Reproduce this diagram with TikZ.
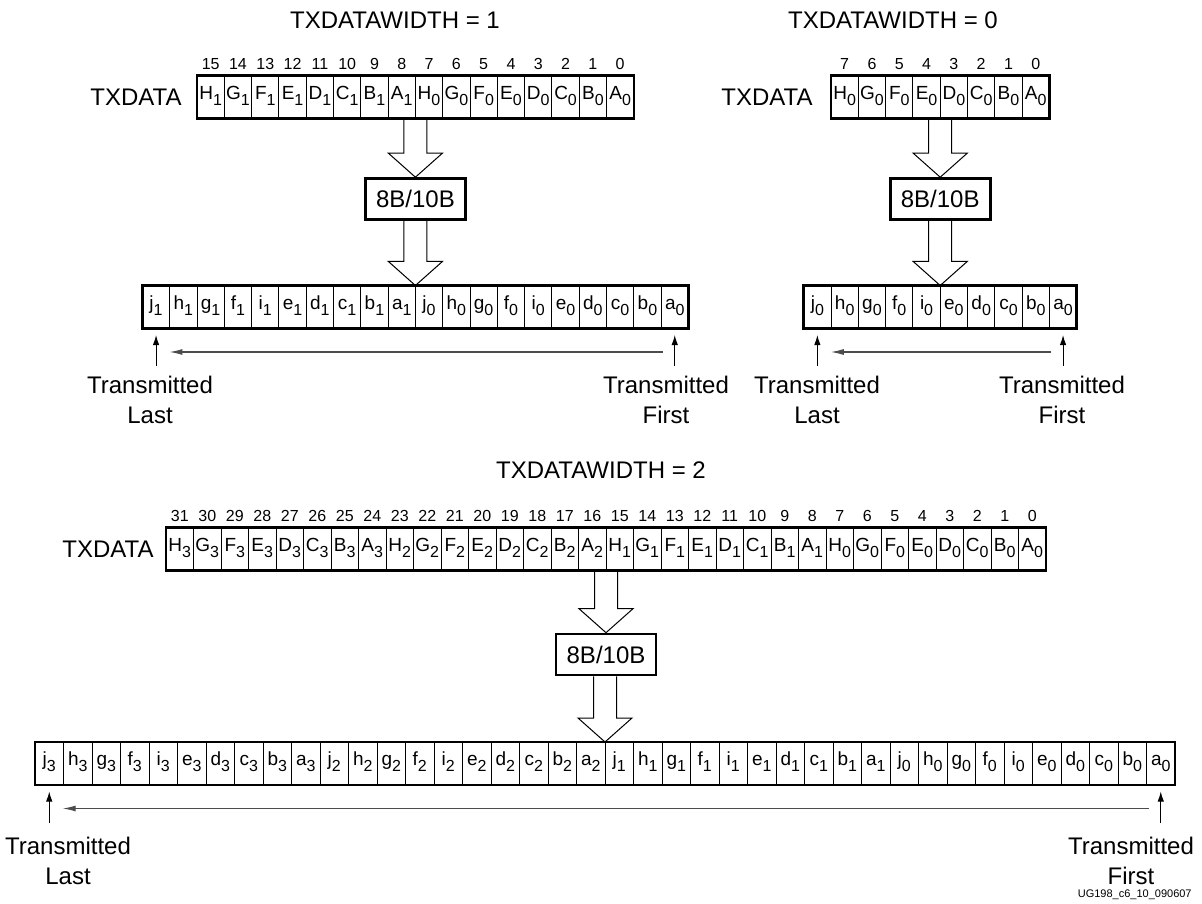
\documentclass[tikz,border=0pt]{standalone}
\usepackage{fontspec}
\setmainfont{Liberation Sans}
\usetikzlibrary{arrows.meta,calc}

\newcommand{\lbl}[2]{#1\raisebox{-3pt}{\fontsize{8}{8}\selectfont #2}}

% wide outlined arrow, open at the top, tip on #2
\newcommand{\blockarrow}[2]{%
  \draw[blockline] let \p1=(#1), \p2=(#2) in
    (\x2-5.75pt,\y1) -- (\x2-5.75pt,\y2+12pt) -- (\x2-13.5pt,\y2+12pt)
    -- (\x2,\y2) -- (\x2+13.5pt,\y2+12pt) -- (\x2+5.75pt,\y2+12pt) -- (\x2+5.75pt,\y1);}

\tikzset{
  cell/.style={draw, line width=0.5pt, minimum width=#1, minimum height=21.5pt,
    text height=7pt, text depth=4.8pt,
    inner sep=0pt, outer sep=0pt, font=\fontsize{9.5}{10}\selectfont},
  rowframe/.style={line width=1.3pt},
  bitnum/.style={inner sep=0pt, font=\fontsize{8}{9}\selectfont},
  rowname/.style={inner sep=0pt, font=\fontsize{12}{14}\selectfont},
  headline/.style={inner sep=0pt, font=\fontsize{12}{14}\selectfont},
  coder/.style={draw, line width=1.3pt, minimum width=50pt, minimum height=20.5pt,
    inner sep=0pt, font=\fontsize{12}{14}\selectfont},
  blockline/.style={line width=0.5pt},
  uparr/.style={line width=0.5pt, -{Latex[length=5pt,width=3.2pt]}},
  flowarr/.style={line width=0.6pt, draw=black!70, -{Latex[length=6.5pt,width=3pt]}},
  txlabel/.style={inner sep=0pt, align=center, font=\fontsize{12}{15}\selectfont},
  figtag/.style={inner sep=0pt, anchor=east, font=\fontsize{5.5}{6}\selectfont}
}

\begin{document}
\begin{tikzpicture}[x=0.5pt, y=-0.5pt]

    \useasboundingbox (0,0) rectangle (1202,903);

    % TXDATAWIDTH = 1

    \node[headline] (tltitle) at (395,20) {TXDATAWIDTH = 1};
    \node[rowname] (tlname) at (136,97) {TXDATA};

    \foreach \g in {0,1}
      \foreach \ltr [count=\k from 0] in {A,B,C,D,E,F,G,H} {
        \pgfmathtruncatemacro\bit{8*\g+\k}
        \node[cell=13.65pt] (tlin\bit) at ({197+(15.5-\bit)*27.3},97) {\lbl{\ltr}{\g}};
        \node[bitnum] (tlbit\bit) at ({197+(15.5-\bit)*27.3},64) {\bit};
      }
    \draw[rowframe] (tlin15.north west) rectangle (tlin0.south east);

    \node[coder] (tlcode) at (415.4,199) {8B/10B};

    \foreach \g in {0,1}
      \foreach \ltr [count=\k from 0] in {a,b,c,d,e,i,f,g,h,j} {
        \pgfmathtruncatemacro\pos{10*\g+\k}
        \node[cell=13.65pt] (tlout\pos) at ({142.4+(19.5-\pos)*27.3},307) {\lbl{\ltr}{\g}};
      }
    \draw[rowframe] (tlout19.north west) rectangle (tlout0.south east);

    \blockarrow{tlin8.south east}{tlcode.north}
    \blockarrow{tlcode.south}{tlout9.north west}

    \coordinate (tllastfoot) at ([yshift=-18.75pt]tlout19.south);
    \coordinate (tlfirstfoot) at ([yshift=-18.75pt]tlout0.south);
    \coordinate (tlflowa) at ([xshift=-6pt,yshift=-11.75pt]tlout0.south);
    \coordinate (tlflowb) at ([xshift=6.7pt,yshift=-11.75pt]tlout19.south);
    \draw[uparr, shorten >=3.25pt] (tllastfoot) -- (tlout19.south);
    \draw[uparr, shorten >=3.25pt] (tlfirstfoot) -- (tlout0.south);
    \draw[flowarr] (tlflowa) -- (tlflowb);

    \node[txlabel] (tllast) at (150,400) {Transmitted\\Last};
    \node[txlabel] (tlfirst) at (666,400) {Transmitted\\First};

    % TXDATAWIDTH = 0

    \node[headline] (trtitle) at (893,20) {TXDATAWIDTH = 0};
    \node[rowname] (trname) at (767,97) {TXDATA};

    \foreach \ltr [count=\k from 0] in {A,B,C,D,E,F,G,H} {
        \pgfmathtruncatemacro\bit{\k}
        \node[cell=13.65pt] (trin\bit) at ({831+(7.5-\bit)*27.3},97) {\lbl{\ltr}{0}};
        \node[bitnum] (trbit\bit) at ({831+(7.5-\bit)*27.3},64) {\bit};
      }
    \draw[rowframe] (trin7.north west) rectangle (trin0.south east);

    \node[coder] (trcode) at (940.2,199) {8B/10B};

    \foreach \ltr [count=\k from 0] in {a,b,c,d,e,i,f,g,h,j} {
        \pgfmathtruncatemacro\pos{\k}
        \node[cell=13.65pt] (trout\pos) at ({803.7+(9.5-\pos)*27.3},307) {\lbl{\ltr}{0}};
      }
    \draw[rowframe] (trout9.north west) rectangle (trout0.south east);

    \blockarrow{trin4.south east}{trcode.north}
    \blockarrow{trcode.south}{trout4.north west}

    \coordinate (trlastfoot) at ([yshift=-18.75pt]trout9.south);
    \coordinate (trfirstfoot) at ([yshift=-18.75pt]trout0.south);
    \coordinate (trflowa) at ([xshift=-6pt,yshift=-11.75pt]trout0.south);
    \coordinate (trflowb) at ([xshift=6.7pt,yshift=-11.75pt]trout9.south);
    \draw[uparr, shorten >=3.25pt] (trlastfoot) -- (trout9.south);
    \draw[uparr, shorten >=3.25pt] (trfirstfoot) -- (trout0.south);
    \draw[flowarr] (trflowa) -- (trflowb);

    \node[txlabel] (trlast) at (817,400) {Transmitted\\Last};
    \node[txlabel] (trfirst) at (1062,400) {Transmitted\\First};

    % TXDATAWIDTH = 2

    \node[headline] (bttitle) at (601,470) {TXDATAWIDTH = 2};
    \node[rowname] (btname) at (108,549) {TXDATA};

    \foreach \g in {0,1,2,3}
      \foreach \ltr [count=\k from 0] in {A,B,C,D,E,F,G,H} {
        \pgfmathtruncatemacro\bit{8*\g+\k}
        \node[cell=13.75pt] (btin\bit) at ({166+(31.5-\bit)*27.5},549) {\lbl{\ltr}{\g}};
        \node[bitnum] (btbit\bit) at ({166+(31.5-\bit)*27.5},516) {\bit};
      }
    \draw[rowframe] (btin31.north west) rectangle (btin0.south east);

    \node[coder] (btcode) at (606,654.5) {8B/10B};

    \foreach \g in {0,1,2,3}
      \foreach \ltr [count=\k from 0] in {a,b,c,d,e,i,f,g,h,j} {
        \pgfmathtruncatemacro\pos{10*\g+\k}
        \node[cell=14.25pt] (btout\pos) at ({35+(39.5-\pos)*28.5},763.5) {\lbl{\ltr}{\g}};
      }
    \draw[rowframe] (btout39.north west) rectangle (btout0.south east);

    \blockarrow{btin16.south east}{btcode.north}
    \blockarrow{btcode.south}{btout19.north west}

    \coordinate (btlastfoot) at ([yshift=-18.75pt]btout39.south);
    \coordinate (btfirstfoot) at ([yshift=-18.75pt]btout0.south);
    \coordinate (btflowa) at ([xshift=-6pt,yshift=-11.75pt]btout0.south);
    \coordinate (btflowb) at ([xshift=6.7pt,yshift=-11.75pt]btout39.south);
    \draw[uparr, shorten >=3.25pt] (btlastfoot) -- (btout39.south);
    \draw[uparr, shorten >=3.25pt] (btfirstfoot) -- (btout0.south);
    \draw[flowarr] (btflowa) -- (btflowb);

    \node[txlabel] (btlast) at (68,861) {Transmitted\\Last};
    \node[txlabel] (btfirst) at (1131,861) {Transmitted\\First};

    \node[figtag] (figid) at (1192,895) {UG198\_c6\_10\_090607};

\end{tikzpicture}
\end{document}
